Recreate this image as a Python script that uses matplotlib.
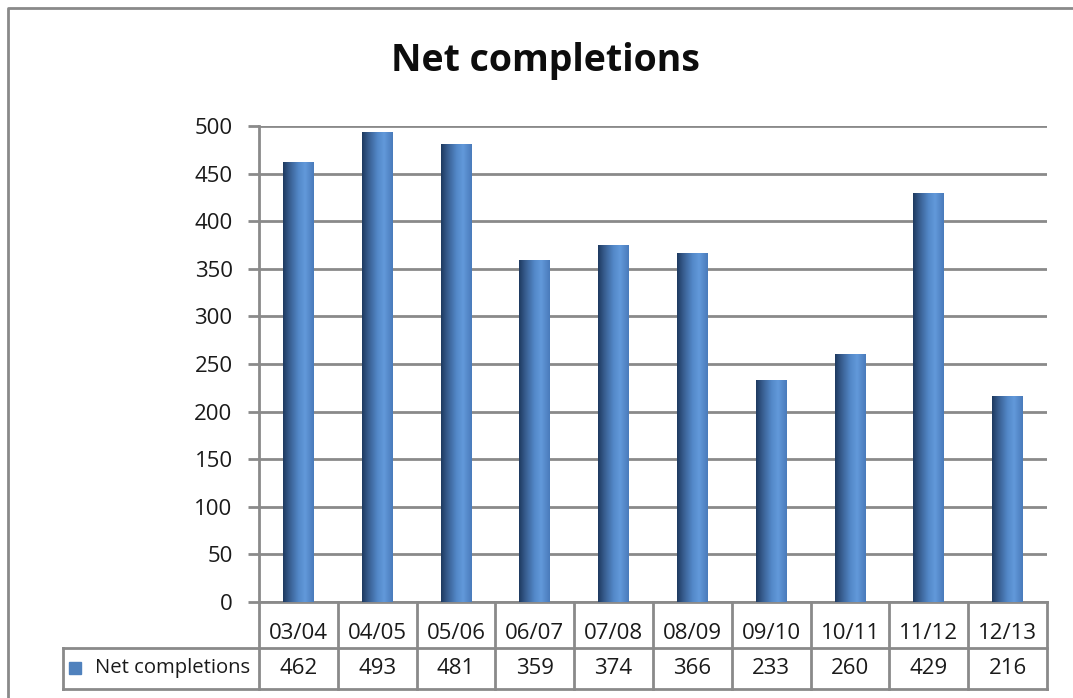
import matplotlib
matplotlib.use("Agg")
import matplotlib.pyplot as plt
from matplotlib.colors import LinearSegmentedColormap
from matplotlib.lines import Line2D
import numpy as np

seasons = ['03/04', '04/05', '05/06', '06/07', '07/08',
           '08/09', '09/10', '10/11', '11/12', '12/13']
completions = [462, 493, 481, 359, 374, 366, 233, 260, 429, 216]
series_name = 'Net completions'
y_ticks = [0, 50, 100, 150, 200, 250, 300, 350, 400, 450, 500]

plt.rcParams['font.family'] = ['Open Sans', 'DejaVu Sans']

W, H = 1073, 698
fig = plt.figure(figsize=(W / 100, H / 100), dpi=100)
ax = fig.add_axes([259 / W, 1 - 602 / H, (1047 - 259) / W, (602 - 126) / H])

grid_col = '#8a8a8a'
txt_col = '#1a1a1a'
# cylinder-like shading of the bars
cyl = LinearSegmentedColormap.from_list(
    'cyl', [(0.0, '#1e3a60'), (0.18, '#35598a'), (0.5, '#5388c8'),
            (0.72, '#6299da'), (1.0, '#4a7bbb')])
grad = np.linspace(0, 1, 64).reshape(1, -1)
bw = 0.39
for i, v in enumerate(completions):
    ax.imshow(grad, cmap=cyl, aspect='auto', interpolation='bilinear',
              extent=(i - bw / 2, i + bw / 2, 0, v), zorder=3)

ax.set_xlim(-0.5, len(seasons) - 0.5)
ax.set_ylim(0, 500)
ax.set_yticks(y_ticks)
ax.set_yticklabels([str(t) for t in y_ticks], fontsize=16, color=txt_col)
ax.set_xticks([])
ax.yaxis.grid(True, color=grid_col, linewidth=2)
ax.set_axisbelow(True)
for s in ['top', 'right', 'bottom']:
    ax.spines[s].set_visible(False)
ax.spines['left'].set_color(grid_col)
ax.spines['left'].set_linewidth(2)
ax.tick_params(axis='y', length=8, width=2, color=grid_col, pad=11)

# data table under the chart
tr = ax.get_xaxis_transform()
y_head, y_row = -0.0966, -0.1828
x_left = -0.5 - (259 - 63) / 78.8
n = len(seasons)
lk = dict(color=grid_col, linewidth=2, clip_on=False, solid_capstyle='projecting')
ax.plot([-0.5, n - 0.5], [0, 0], transform=tr, **lk)
ax.plot([x_left, n - 0.5], [y_head, y_head], transform=tr, **lk)
ax.plot([x_left, n - 0.5], [y_row, y_row], transform=tr, **lk)
ax.plot([x_left, x_left], [y_head, y_row], transform=tr, **lk)
for k in range(n + 1):
    ax.plot([k - 0.5, k - 0.5], [0, y_row], transform=tr, **lk)
for i, (s, v) in enumerate(zip(seasons, completions)):
    ax.text(i, -0.066, s, transform=tr, ha='center', va='center',
            fontsize=16, color=txt_col)
    ax.text(i, -0.139, str(v), transform=tr, ha='center',
            va='center', fontsize=16, color=txt_col)
ax.plot([x_left + 0.15], [-0.139], marker='s', markersize=8,
        color='#4f81bd', transform=tr, clip_on=False)
ax.text(x_left + 0.4, -0.139, series_name, transform=tr,
        ha='left', va='center', fontsize=14.6, color=txt_col)

fig.text(545 / W, 1 - 61 / H, 'Net completions', ha='center', va='center',
         fontsize=27, fontweight='bold', color='#0d0d0d')

# chart outer border (left and top visible)
fig.add_artist(Line2D([8 / W, 8 / W, 1.0], [0.0, 1 - 8 / H, 1 - 8 / H],
                      color='#8a8a8a', linewidth=2, transform=fig.transFigure))

fig.savefig('out.png', dpi=100, facecolor='white')
